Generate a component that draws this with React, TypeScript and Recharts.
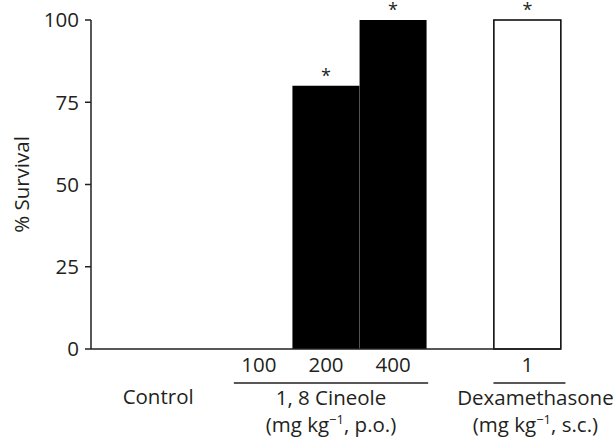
import { BarChart, Bar, XAxis, YAxis, Cell, LabelList } from 'recharts';

// slots along the x axis (first one is an empty spacer, "gap" separates the groups)
const categories = ['spacer', 'Control', '100', '200', '400', 'gap', '1'];
const tickLabels = ['', '', '100', '200', '400', '', '1'];
const groups = ['', 'control', 'cineole', 'cineole', 'cineole', '', 'dexamethasone'];
const survival = [null, 0, 0, 80, 100, null, 100];
const significant = [false, false, false, true, true, false, true];
const yTicks = [0, 25, 50, 75, 100];

const WIDTH = 616;
const HEIGHT = 440;
const MARGIN = { top: 20, right: 55, bottom: 0, left: 31 };
const Y_AXIS_W = 60;
const SLOT_W = (WIDTH - MARGIN.left - MARGIN.right - Y_AXIS_W) / categories.length;

const FONT = '"Open Sans", "Noto Sans", sans-serif';
const INK = '#231f20';
const FS = 20.5;

const data = categories.map((c, i) => ({
    key: c,
    survival: survival[i],
    marker: significant[i] ? '*' : '',
}));

const fillFor = (group: string) => (group === 'dexamethasone' ? '#ffffff' : '#000000');

function GroupText({ x, y, title, route }: { x: number; y: number; title: string; route: string }) {
    return (
        <>
            <text x={x} y={y + 56} textAnchor="middle" fontSize={FS} fill={INK} fontFamily={FONT}>
                {title}
            </text>
            <text x={x} y={y + 83} textAnchor="middle" fontSize={FS} fill={INK} fontFamily={FONT}>
                (mg kg
                <tspan dy={-8} fontSize={13}>−1</tspan>
                <tspan dy={8}>, {route})</tspan>
            </text>
        </>
    );
}

function XTick(props: any) {
    const { x, y, index } = props;
    const label = tickLabels[index];
    const cat = categories[index];
    return (
        <g>
            {label && (
                <text x={x} y={y + 23} textAnchor="middle" fontSize={FS} fill={INK} fontFamily={FONT}>
                    {label}
                </text>
            )}
            {cat === 'Control' && (
                <text x={x - SLOT_W / 2} y={y + 55} textAnchor="middle" fontSize={FS} fill={INK} fontFamily={FONT}>
                    Control
                </text>
            )}
            {cat === '200' && (
                <>
                    <line x1={x - SLOT_W - 25} x2={x + SLOT_W + 35} y1={y + 34} y2={y + 34} stroke={INK} strokeWidth={1.5} />
                    <GroupText x={x + 5} y={y} title="1, 8 Cineole" route="p.o." />
                </>
            )}
            {cat === '1' && (
                <>
                    <line x1={x - 34} x2={x + 38} y1={y + 34} y2={y + 34} stroke={INK} strokeWidth={1.5} />
                    <GroupText x={x + 8} y={y} title="Dexamethasone" route="s.c." />
                </>
            )}
        </g>
    );
}

function Asterisk(props: any) {
    const { x, y, width, value } = props;
    if (!value) return null;
    return (
        <text x={x + width / 2} y={y - 4} textAnchor="middle" fontSize={18} fill={INK} fontFamily={FONT}>
            {value}
        </text>
    );
}

export default function App() {
    return (
        <div style={{ position: 'absolute', left: 0, top: 0, width: WIDTH, height: HEIGHT, background: '#fff' }}>
            <BarChart width={WIDTH} height={HEIGHT} data={data} margin={MARGIN} barCategoryGap={0} barGap={0}>
                <XAxis
                    dataKey="key"
                    interval={0}
                    height={91}
                    tick={<XTick />}
                    tickLine={false}
                    tickSize={0}
                    tickMargin={0}
                    axisLine={{ stroke: INK, strokeWidth: 1.5 }}
                />
                <YAxis
                    width={Y_AXIS_W}
                    domain={[0, 100]}
                    ticks={yTicks}
                    tickSize={6}
                    tickMargin={6}
                    tick={{ fill: INK, fontSize: FS, fontFamily: FONT }}
                    tickLine={{ stroke: INK, strokeWidth: 1.5 }}
                    axisLine={{ stroke: INK, strokeWidth: 1.5 }}
                    label={{
                        content: ({ viewBox }: any) => (
                            <text
                                x={viewBox.x - 10}
                                y={viewBox.y + viewBox.height / 2}
                                transform={`rotate(-90, ${viewBox.x - 10}, ${viewBox.y + viewBox.height / 2})`}
                                textAnchor="middle"
                                dominantBaseline="central"
                                fontSize={FS}
                                fill={INK}
                                fontFamily={FONT}
                            >
                                % Survival
                            </text>
                        ),
                    }}
                />
                <Bar dataKey="survival" isAnimationActive={false}>
                    {data.map((d, i) => (
                        <Cell
                            key={d.key}
                            fill={fillFor(groups[i])}
                            stroke={groups[i] === 'dexamethasone' ? '#000' : 'none'}
                            strokeWidth={1.5}
                        />
                    ))}
                    <LabelList dataKey="marker" content={<Asterisk />} />
                </Bar>
            </BarChart>
        </div>
    );
}
